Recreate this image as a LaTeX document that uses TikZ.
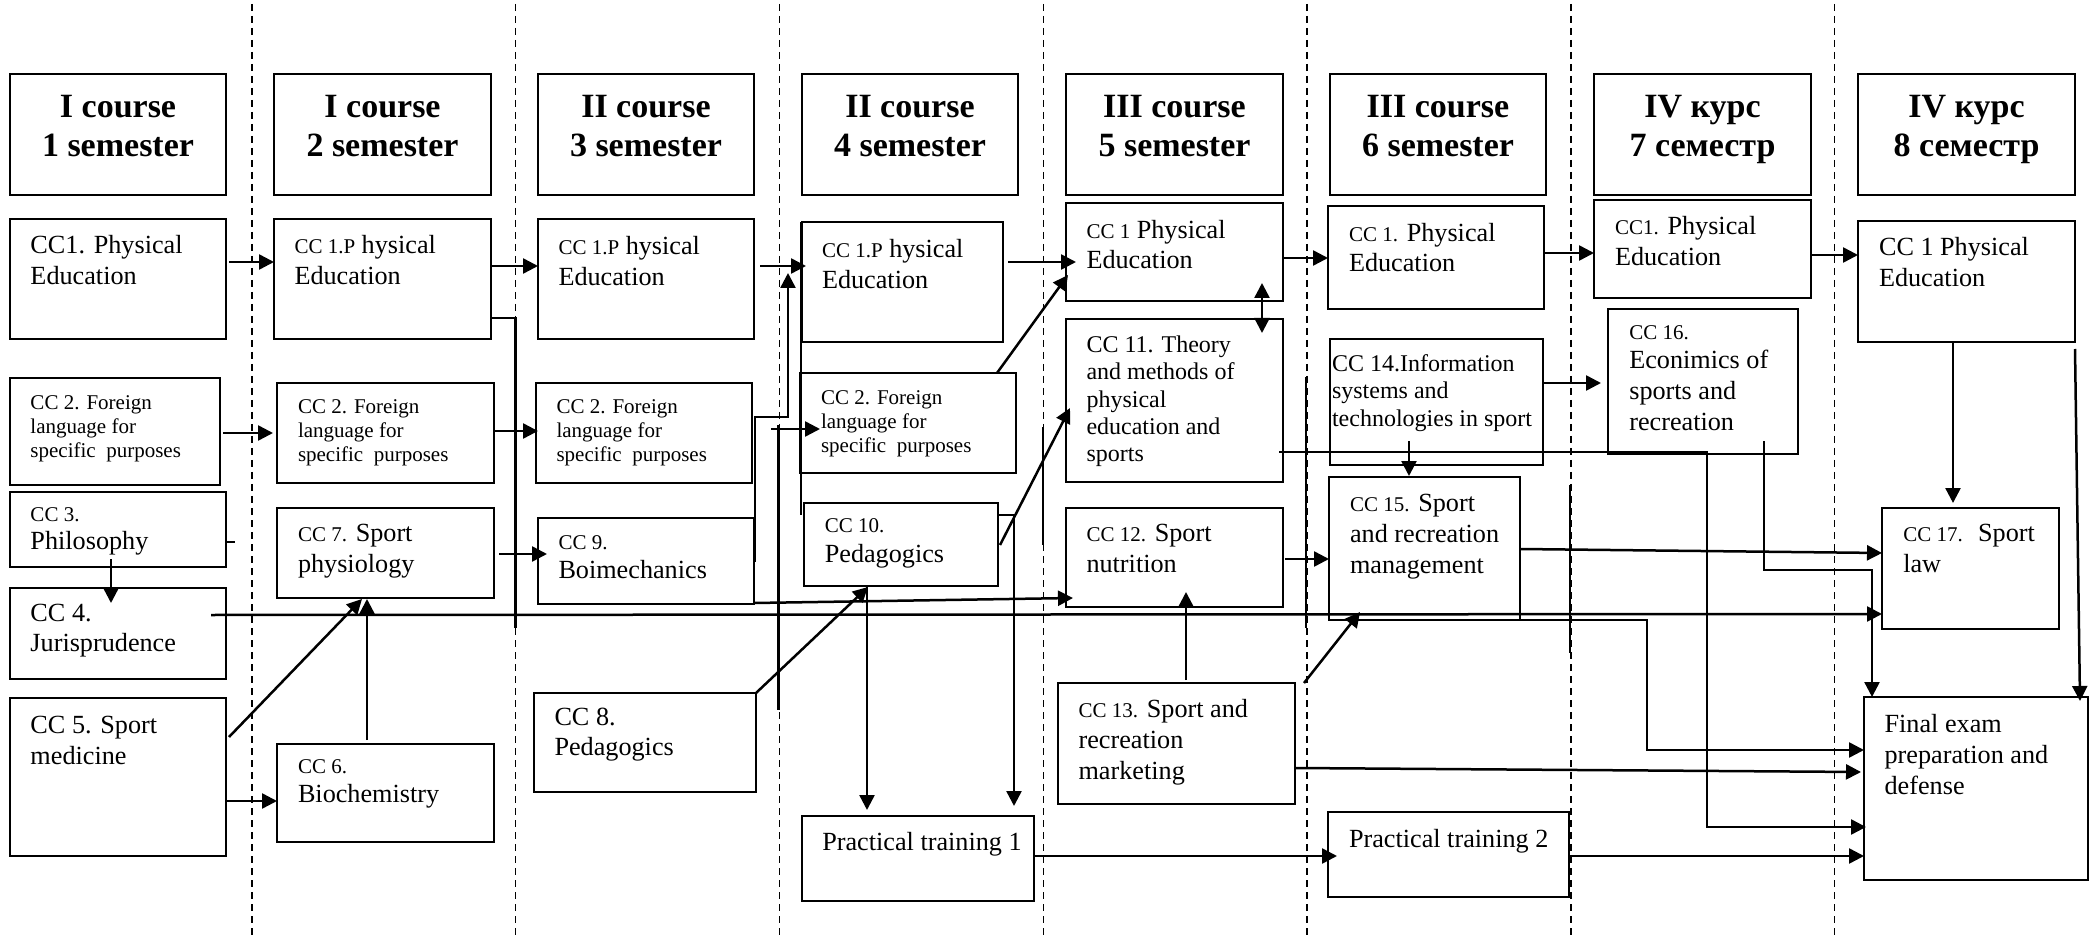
\documentclass[tikz,border=0pt]{standalone}
\usepackage{fontspec}
\setmainfont{Liberation Serif}
\usetikzlibrary{arrows.meta,calc}
\newcommand\smf{\fontsize{10.5}{12}\selectfont}
\tikzset{
  box/.style={draw=black, line width=1pt, inner sep=0pt, outer sep=0pt},
  arr/.style={line width=1.25pt, -{Triangle[length=7.5pt,width=7.5pt]}},
  darr/.style={line width=1.25pt, {Triangle[length=7.5pt,width=7.5pt]}-{Triangle[length=7.5pt,width=7.5pt]}},
  ln/.style={line width=1.25pt},
  dsh/.style={line width=0.7pt, dash pattern=on 3.7pt off 2.3pt},
  txt/.style={inner sep=0pt, outer sep=0pt, align=left, font=\fontsize{13.1}{15.5}\selectfont},
  txts/.style={txt, font=\smf},
  txtm/.style={txt, font=\fontsize{12}{13.65}\selectfont},
  hdr/.style={inner sep=0pt, outer sep=0pt, align=center, font=\bfseries\fontsize{17}{19.7}\selectfont},
}
% box: name, x1, y1, x2, y2, dx, dy, text style, text
\newcommand\bx[9]{%
  \node[box, anchor=north west, minimum width={(#4-#2)/2}, minimum height={(#5-#3)/2}] (#1) at (#2,#3) {};
  \node[#8, anchor=north west] (#1t) at ($(#1.north west)+(#6,#7)$) {\strut #9};}
% header: name, x1, x2, text
\newcommand\hd[4]{%
  \node[box, anchor=north west, minimum width={(#3-#2)/2}, minimum height={60.5}] (#1) at (#2,74) {};
  \node[hdr, anchor=north] (#1t) at ($(#1.north)+(0,15.7)$) {\strut #4};}
\begin{document}
\begin{tikzpicture}[x=0.5pt, y=-0.5pt]
\fill[white] (0,0) rectangle (2098,935);
\useasboundingbox (0,0) rectangle (2098,935);

% column separators
\foreach \xx in {252,515.5,779.5,1043.5,1307,1571,1834.5}
  \draw[dsh] (\xx,4) -- (\xx,935);

% headers
\hd{h1}{10}{226}{I course\\1 semester}
\hd{h2}{274}{491}{I course\\2 semester}
\hd{h3}{538}{754}{II course\\3 semester}
\hd{h4}{802}{1018}{II course\\4 semester}
\hd{h5}{1066}{1283}{III course\\5 semester}
\hd{h6}{1330}{1546}{III course\\6 semester}
\hd{h7}{1594}{1811}{IV курс\\7 семестр}
\hd{h8}{1858}{2075}{IV курс\\8 семестр}

% column 1
\bx{A1}{10}{219}{226}{339}{20.5}{13.3}{txt}{CC1. Physical\\Education}
\bx{A2}{10}{378}{220}{485}{20.5}{14.5}{txts}{CC 2. Foreign\\language for\\specific\ \ purposes}
\bx{A3}{10}{492}{226}{567}{20.5}{8}{txt}{{\smf CC 3.}\\[-1.4pt]Philosophy}
\bx{A4}{10}{588}{226}{679}{20.5}{12}{txt}{CC 4.\\[-0.5pt]Jurisprudence}
\bx{A5}{10}{698}{226}{856}{20.5}{13.6}{txt}{CC 5. Sport\\medicine}
% column 2
\bx{B1}{274}{219}{491}{339}{20.5}{13.3}{txt}{{\smf CC 1.P} hysical\\Education}
\bx{B2}{277}{383}{494}{483}{21}{13.5}{txts}{CC 2. Foreign\\language for\\specific\ \ purposes}
\bx{B7}{277}{508}{494}{598}{21}{12}{txt}{{\smf CC 7.} Sport\\physiology}
\bx{B6}{277}{744}{494}{842}{21}{7.6}{txt}{{\smf CC 6.}\\[-1pt]Biochemistry}
% column 3
\bx{C1}{538}{219}{754}{339}{20.5}{14}{txt}{{\smf CC 1.P} hysical\\Education}
\bx{C2}{536}{383}{752}{483}{20.5}{13.5}{txts}{CC 2. Foreign\\language for\\specific\ \ purposes}
\bx{C9}{538}{518}{754}{604}{20.5}{9.6}{txt}{{\smf CC 9.}\\[-1pt]Boimechanics}
\bx{C8}{534}{693}{756}{792}{20.5}{11}{txt}{CC 8.\\[-0.8pt]Pedagogics}
% column 4
\bx{D1}{802}{222}{1003}{342}{20}{13.6}{txt}{{\smf CC 1.P} hysical\\Education}
\bx{D2}{800}{373}{1016}{473}{21}{14.2}{txts}{CC 2. Foreign\\language for\\specific\ \ purposes}
\bx{D10}{804}{503}{998}{586}{20.8}{8}{txt}{{\smf CC 10.}\\[-0.5pt]Pedagogics}
\bx{P1}{802}{816}{1034}{901}{20.3}{13}{txt}{Practical training 1}
% column 5
\bx{E1}{1066}{203}{1283}{301}{20.5}{13.6}{txt}{{\smf CC 1} Physical\\[-0.5pt]Education}
\bx{E11}{1066}{319}{1283}{482}{20.5}{14.5}{txtm}{CC 11. Theory\\and methods of\\physical\\education and\\sports}
\bx{E12}{1066}{508}{1283}{607}{20.5}{12}{txt}{{\smf CC 12.} Sport\\nutrition}
\bx{E13}{1058}{683}{1295}{804}{20.6}{12.6}{txt}{{\smf CC 13.} Sport and\\recreation\\marketing}
% column 6
\bx{F1}{1328}{206}{1544}{309}{21}{14}{txt}{{\smf CC 1.} Physical\\[-0.5pt]Education}
\bx{F14}{1330}{339}{1543}{465}{2}{13.5}{txtm}{CC 14.Information\\systems and\\technologies in sport}
\bx{F15}{1329}{477}{1520}{620}{21}{13}{txt}{{\smf CC 15.} Sport\\and recreation\\management}
\bx{P2}{1328}{812}{1569}{897}{21}{13.6}{txt}{Practical training 2}
% column 7
\bx{G1}{1594}{200}{1811}{298}{21}{12.6}{txt}{{\smf CC1.} Physical\\Education}
\bx{G16}{1608}{309}{1798}{454}{21.3}{9.3}{txt}{{\smf CC 16.}\\[-1.4pt]Econimics of\\sports and\\recreation}
% column 8
\bx{H1}{1858}{221}{2075}{342}{21}{13.3}{txt}{CC 1 Physical\\Education}
\bx{H17}{1882}{508}{2059}{629}{21.3}{12}{txt}{{\smf CC 17.}~ Sport\\law}
\bx{FE}{1864}{697}{2088}{880}{20.6}{14}{txt}{Final exam\\preparation and\\defense}

% free ends
\coordinate (c2s) at (771,429);
\coordinate (b1e) at (515.5,628);
\coordinate (v1a) at (778.5,425); \coordinate (v1b) at (778.5,710);
\coordinate (v2a) at (1043,427);  \coordinate (v2b) at (1043,545);
\coordinate (v3a) at (1306,377);  \coordinate (v3b) at (1306,628);
\coordinate (v4a) at (1570,485);  \coordinate (v4b) at (1570,653);

% CC1 chain
\draw[arr] ($(A1.north east)+(3,43)$) -- ($(B1.north west)+(0,43)$);
\draw[arr] ($(B1.north east)+(0,47)$) -- ($(C1.north west)+(0,47)$);
\draw[arr] ($(C1.north east)+(6,47)$) -- ($(D1.north west)+(4,44)$);
\draw[arr] ($(D1.north east)+(5,40)$) -- ($(E1.north west)+(10,59)$);
\draw[arr] ($(E1.north east)+(0,55)$) -- ($(F1.north west)+(0,52)$);
\draw[arr] ($(F1.north east)+(0,47)$) -- ($(G1.north west)+(0,53)$);
\draw[arr] ($(G1.north east)+(1,55)$) -- ($(H1.north west)+(0,34)$);
% CC2 chain
\draw[arr] ($(A2.north east)+(3,55)$) -- ($(B2.north west)+(-4,50)$);
\draw[arr] ($(B2.north east)+(0,48)$) -- ($(C2.north west)+(2,48)$);
\draw[arr] (c2s) -- ($(D2.north west)+(20,56)$);
% B1 dangling
\draw[ln] ($(B1.north east)+(0,99)$) -| (b1e);
% column 1
\draw[ln] ($(A3.north east)+(1,50)$) -- ++(8,0);
\draw[arr] ($(A3.south west)+(101,-8)$) -- ($(A4.north west)+(101,15)$);
\draw[arr] ($(A4.north west)+(201,27)$) -- ($(H17.north west)+(0,106)$);
\draw[arr] ($(A5.north east)+(3,39)$) -- ($(B7.south west)+(85,1)$);
\draw[arr] ($(A5.north east)+(1,103)$) -- ($(B6.north west)+(0,57)$);
\draw[arr] ($(B6.north west)+(90,-4)$) -- ($(B7.south west)+(90,1)$);
\draw[arr] ($(B7.north east)+(5,46)$) -- ($(C9.north west)+(9,36)$);
% column 3 / 4
\draw[arr] ($(C9.north east)+(1,44)$) -- ++(0,-145) -- ++(33,0) -- ($(D1.north west)+(-14,51)$);
\draw[ln] ($(D1.north west)+(-1,0)$) -- ($(D1.north west)+(-1,293)$);
\draw[arr] ($(D2.north east)+(-19,0)$) -- ($(E1.north west)+(2,72)$);
\draw[arr] ($(D10.north east)+(2,42)$) -- ($(E11.north west)+(4,89)$);
\draw[arr] ($(D10.south west)+(63,0)$) -- ($(P1.north west)+(65,-6)$);
\draw[arr] ($(D10.north east)+(0,12)$) -| ($(P1.north west)+(212,-10)$);
\draw[arr] (C8.north east) -- ($(D10.south west)+(64,1)$);
\draw[arr] ($(C9.south east)+(0,-1)$) -- ($(E12.south west)+(7,-9)$);
\draw[arr] ($(P1.north east)+(0,40)$) -- ($(P2.north west)+(9,44)$);
% column 5
\draw[darr] ($(E1.south west)+(196,-18)$) -- ($(E11.north west)+(196,14)$);
\draw[arr] ($(E11.north east)+(-4,133)$) -- ($(G16.south west)+(99,-2)$) |- ($(FE.north west)+(2,130)$);
\draw[arr] ($(E12.north east)+(2,51)$) -- ($(F15.north west)+(0,82)$);
\draw[arr] ($(E13.north west)+(128,-3)$) -- ($(E12.south west)+(120,-15)$);
\draw[arr] ($(E13.north east)+(9,0)$) -- ($(F15.south west)+(31,-8)$);
\draw[arr] ($(E13.north east)+(0,85)$) -- ($(FE.north west)+(-3,75)$);
% column 6
\draw[arr] ($(F14.south west)+(79,-24)$) -- ($(F15.north west)+(80,-1)$);
\draw[arr] ($(F14.north east)+(0,44)$) -- ($(G16.north west)+(-7,74)$);
\draw[arr] ($(F15.north east)+(0,72)$) -- ($(H17.north west)+(0,45)$);
\draw[arr] ($(F15.south west)+(100,0)$) -- ++(218,0) |- ($(FE.north west)+(0,53)$);
\draw[arr] ($(P2.north east)+(0,44)$) -- ($(FE.north west)+(0,159)$);
% column 7 / 8
\draw[arr] ($(G16.south west)+(156,-13)$) -- ++(0,129) -| ($(FE.north west)+(8,0)$);
\draw[arr] ($(H1.south west)+(95,0)$) -- ($(H17.north west)+(71,-5)$);
\draw[arr] ($(H1.south east)+(0,7)$) -- ($(FE.north east)+(-8,4)$);
% solid segments along separators
\draw[ln] (v1a) -- (v1b);
\draw[ln] (v2a) -- (v2b);
\draw[ln] (v3a) -- (v3b);
\draw[ln] (v4a) -- (v4b);
\end{tikzpicture}
\end{document}
